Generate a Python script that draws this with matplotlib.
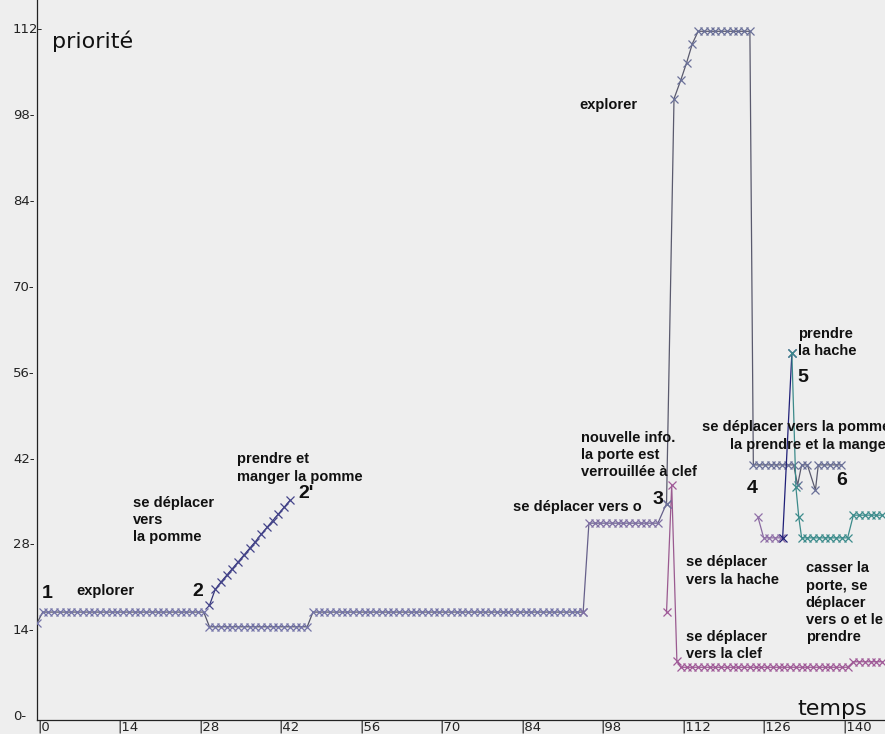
import matplotlib
matplotlib.use("Agg")
import matplotlib.pyplot as plt

# --- data (time step -> priority) -----------------------------------------
# explorer, first part (t = 0..95)
EXPLORE_T = list(range(0, 96))
EXPLORE_V = [
    15.0, 16.8, 16.8, 16.8, 16.8, 16.8, 16.8, 16.8, 16.8, 16.8,
    16.8, 16.8, 16.8, 16.8, 16.8, 16.8, 16.8, 16.8, 16.8, 16.8,
    16.8, 16.8, 16.8, 16.8, 16.8, 16.8, 16.8, 16.8, 16.8, 16.8,
    14.4, 14.4, 14.4, 14.4, 14.4, 14.4, 14.4, 14.4, 14.4, 14.4,
    14.4, 14.4, 14.4, 14.4, 14.4, 14.4, 14.4, 14.4, 16.8, 16.8,
    16.8, 16.8, 16.8, 16.8, 16.8, 16.8, 16.8, 16.8, 16.8, 16.8,
    16.8, 16.8, 16.8, 16.8, 16.8, 16.8, 16.8, 16.8, 16.8, 16.8,
    16.8, 16.8, 16.8, 16.8, 16.8, 16.8, 16.8, 16.8, 16.8, 16.8,
    16.8, 16.8, 16.8, 16.8, 16.8, 16.8, 16.8, 16.8, 16.8, 16.8,
    16.8, 16.8, 16.8, 16.8, 16.8, 16.8,
]

# se déplacer vers la pomme / prendre et manger la pomme
POMME_T = [30, 31, 32, 33, 34, 35, 36, 37, 38, 39, 40, 41, 42, 43, 44]
POMME_V = [17.9, 20.5, 21.7, 22.8, 23.9, 25.0, 26.1, 27.2, 28.3, 29.5,
           30.6, 31.7, 32.8, 33.9, 35.0]

# se déplacer vers o
VERS_O_T = [95, 96, 97, 98, 99, 100, 101, 102, 103, 104, 105, 106, 107, 108, 109.5]
VERS_O_V = [16.8, 31.3, 31.3, 31.3, 31.3, 31.3, 31.3, 31.3, 31.3, 31.3,
            31.3, 31.3, 31.3, 31.3, 34.5]

# explorer, second part (big peak) then se déplacer vers la pomme (4, 6)
EXPLORE2_T = [109.5, 110.8, 112, 113, 114, 115, 116, 117, 118, 119, 120,
              121, 122, 123, 124, 124.6, 125.6, 126.6, 127.6, 128.6, 129.6,
              130.6, 131.6, 132.3, 133, 134, 135.4, 135.9, 136.9, 137.9,
              138.9, 139.9]
EXPLORE2_V = [34.5, 100.5, 103.6, 106.4, 109.5, 111.5, 111.5, 111.5, 111.5,
              111.5, 111.5, 111.5, 111.5, 111.5, 111.5, 40.8, 40.8, 40.8,
              40.8, 40.8, 40.8, 40.8, 40.8, 37.5, 40.8, 40.8, 36.7, 40.8,
              40.8, 40.8, 40.8, 40.8]

# se déplacer vers la clef
CLEF_T = [109.5, 110.4, 111.3,
          112, 113, 114, 115, 116, 117, 118, 119, 120, 121, 122, 123, 124,
          125, 126, 127, 128, 129, 130, 131, 132, 133, 134, 135, 136, 137,
          138, 139, 140, 141, 142, 143, 144, 145, 146, 147]
CLEF_V = [16.8, 37.5, 8.8,
          7.8, 7.8, 7.8, 7.8, 7.8, 7.8, 7.8, 7.8, 7.8, 7.8, 7.8, 7.8, 7.8,
          7.8, 7.8, 7.8, 7.8, 7.8, 7.8, 7.8, 7.8, 7.8, 7.8, 7.8, 7.8, 7.8,
          7.8, 7.8, 7.8, 7.8, 8.7, 8.7, 8.7, 8.7, 8.7, 8.7]

# se déplacer vers la hache
HACHE_T = [125.4, 126.4, 127.4, 128.4, 129.4]
HACHE_V = [32.3, 28.9, 28.9, 28.9, 28.9]

# prendre la hache
PRENDRE_T = [129.7, 131.3]
PRENDRE_V = [28.9, 59.0]

# casser la porte, se déplacer vers o et le prendre
CASSER_T = [131.3, 132.0, 132.5, 133, 134, 135, 136, 137, 138, 139, 140,
            141, 142, 143, 144, 145, 146, 147]
CASSER_V = [59.0, 37.2, 32.3, 28.9, 28.9, 28.9, 28.9, 28.9, 28.9, 28.9,
            28.9, 28.9, 32.6, 32.6, 32.6, 32.6, 32.6, 32.6]

X_TICKS = [0, 14, 28, 42, 56, 70, 84, 98, 112, 126, 140]
Y_TICKS = [0, 14, 28, 42, 56, 70, 84, 98, 112]

BG = "#eeeeee"
BOLD = dict(family=["Liberation Sans", "DejaVu Sans"], weight="bold",
            fontsize=10.5, color="#111111", linespacing=1.3,
            ha="left", va="center")
NUM = dict(family=["Liberation Sans", "DejaVu Sans"], weight="bold",
           fontsize=14, color="#111111", ha="left", va="center")


def series(ax, t, v, line_c, mark_c):
    ax.plot(t, v, color=line_c, lw=0.9, marker="x", ms=6, mew=0.9,
            mec=mark_c, zorder=3)


def main():
    fig = plt.figure(figsize=(8.85, 7.34), dpi=100, facecolor=BG)
    ax = fig.add_axes([37 / 885, 14 / 734, 848 / 885, 720 / 734], facecolor=BG)

    series(ax, EXPLORE_T, EXPLORE_V, "#55556a", "#7474a8")
    series(ax, POMME_T, POMME_V, "#35357a", "#45458a")
    series(ax, VERS_O_T, VERS_O_V, "#66608a", "#8070a4")
    series(ax, CLEF_T, CLEF_V, "#9a5a90", "#a05a98")
    series(ax, EXPLORE2_T, EXPLORE2_V, "#5a5a6e", "#6a7098")
    series(ax, HACHE_T, HACHE_V, "#8a6aa0", "#9070a8")
    series(ax, PRENDRE_T, PRENDRE_V, "#202078", "#202078")
    series(ax, CASSER_T, CASSER_V, "#3c8a8a", "#3c8c8c")

    ax.set_xlim(0, 147.5)
    ax.set_ylim(-0.8, 116.6)

    for s in ("top", "right"):
        ax.spines[s].set_visible(False)
    for s in ("left", "bottom"):
        ax.spines[s].set_color("#222222")
        ax.spines[s].set_linewidth(0.9)

    ax.set_yticks(Y_TICKS)
    ax.set_yticklabels([f"{v}-" for v in Y_TICKS], ha="left",
                       family="DejaVu Sans", fontsize=9.5, color="#222222")
    ax.tick_params(axis="y", length=0, pad=17.3)
    ax.set_xticks(X_TICKS)
    ax.set_xticklabels([f"|{v}" for v in X_TICKS], ha="left",
                       family="DejaVu Sans", fontsize=9.5, color="#222222")
    ax.tick_params(axis="x", length=0, pad=0.5)

    # axis titles
    ax.text(2.6, 109.8, "priorité", fontsize=16, family="DejaVu Sans",
            color="#111111", ha="left", va="center")
    ax.text(132.3, 1.0, "temps", fontsize=16, family="DejaVu Sans",
            color="#111111", ha="left", va="center")

    # annotations
    ax.text(0.9, 19.9, "1", **NUM)
    ax.text(6.8, 20.2, "explorer", **BOLD)
    ax.text(27.1, 20.2, "2", **NUM)
    ax.text(16.7, 31.8, "se déplacer\nvers\nla pomme", **BOLD)
    ax.text(34.8, 40.3, "prendre et\nmanger la pomme", **BOLD)
    ax.text(45.4, 36.2, "2'", **NUM)
    ax.text(94.4, 99.5, "explorer", **BOLD)
    ax.text(82.8, 33.9, "se déplacer vers o", **BOLD)
    ax.text(107.0, 35.1, "3", **NUM)
    ax.text(94.6, 42.4, "nouvelle info.\nla porte est\nverrouillée à clef", **BOLD)
    ax.text(115.7, 47.0, "se déplacer vers la pomme,", **BOLD)
    ax.text(120.5, 44.0, "la prendre et la manger", **BOLD)
    ax.text(132.3, 60.8, "prendre\nla hache", **BOLD)
    ax.text(132.2, 55.0, "5", **NUM)
    ax.text(123.5, 36.9, "4", **NUM)
    ax.text(139.1, 38.3, "6", **NUM)
    ax.text(112.9, 23.5, "se déplacer\nvers la hache", **BOLD)
    ax.text(133.7, 18.3, "casser la\nporte, se\ndéplacer\nvers o et le\nprendre", **BOLD)
    ax.text(112.9, 11.4, "se déplacer\nvers la clef", **BOLD)

    fig.savefig("out.png", dpi=100, facecolor=BG)
    plt.close(fig)


if __name__ == "__main__":
    main()
